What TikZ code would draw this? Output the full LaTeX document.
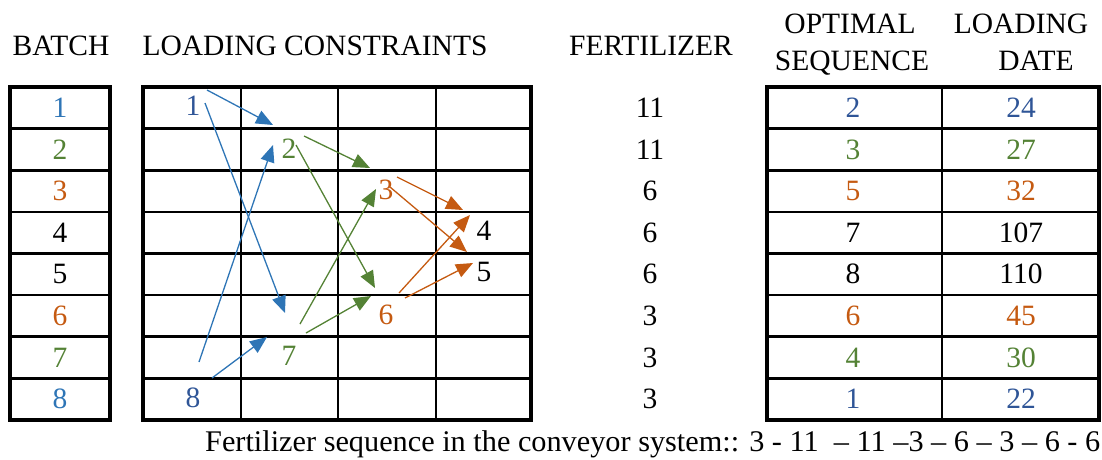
\documentclass[tikz,border=0pt]{standalone}
\usepackage{fontspec}
\setmainfont{LiberationSerif}[Extension=.ttf, UprightFont=*-Regular, BoldFont=*-Bold]
\usetikzlibrary{arrows.meta}
\definecolor{seqblue}{HTML}{2F5597}
\definecolor{arrblue}{HTML}{2E75B6}
\definecolor{seqgreen}{HTML}{548235}
\definecolor{seqorange}{HTML}{C55A11}

\begin{document}
\begin{tikzpicture}[
    x=1pt, y=-1pt,
    every node/.style={inner sep=0pt, font=\fontsize{29.5}{32}\selectfont},
    head/.style={anchor=base},
    outer/.style={line width=4.5pt},
    inner/.style={line width=2.6pt},
    link/.style={line width=1.3pt, -{Triangle[length=17pt,width=14pt]}}
]
\useasboundingbox (0,0) rectangle (1102,459);

\node[head] (hbatch) at (61,55) {BATCH};
\node[head] (hload) at (315,55) {LOADING CONSTRAINTS};
\node[head] (hfert) at (651,55) {FERTILIZER};
\node[head] (hopt) at (850,33) {OPTIMAL};
\node[head] (hseq) at (852,70) {SEQUENCE};
\node[head] (hldg) at (1021,33) {LOADING};
\node[head] (hdate) at (1036,70) {DATE};

\draw[inner] \foreach \i in {1,...,7} {(10,{87+41.6*\i}) -- (110,{87+41.6*\i})};
\draw[outer] (10,87) rectangle (110,420);

\draw[inner] \foreach \i in {1,...,7} {(143,{87+41.6*\i}) -- (531,{87+41.6*\i})}
    \foreach \x in {241,338,436} {(\x,87) -- (\x,420)};
\draw[outer] (143,87) rectangle (531,420);

\draw[inner] \foreach \i in {1,...,7} {(767,{87+41.6*\i}) -- (1099,{87+41.6*\i})}
    (942,87) -- (942,420);
\draw[outer] (767,87) rectangle (1099,420);

\foreach \v/\c [count=\i] in {1/arrblue,2/seqgreen,3/seqorange,4/black,5/black,6/seqorange,7/seqgreen,8/arrblue}
  \node[text=\c] (b\i) at (60,{87+41.6*(\i-0.5)}) {\v};

\foreach \v [count=\i] in {11,11,6,6,6,3,3,3}
  \node (f\i) at (650,{87+41.6*(\i-0.5)}) {\v};

\foreach \s/\d/\c [count=\i] in {2/24/seqblue,3/27/seqgreen,5/32/seqorange,7/107/black,8/110/black,6/45/seqorange,4/30/seqgreen,1/22/seqblue} {
  \node[text=\c] (s\i) at (853,{87+41.6*(\i-0.5)}) {\s};
  \node[text=\c] (d\i) at (1021,{87+41.6*(\i-0.5)}) {\d};
}

\node[text=seqblue] (n1) at (193,106) {1};
\node[text=seqgreen] (n2) at (289,149) {2};
\node[text=seqorange] (n3) at (386,190) {3};
\node (n4) at (484,231) {4};
\node (n5) at (484,272) {5};
\node[text=seqorange] (n6) at (386,315) {6};
\node[text=seqgreen] (n7) at (289,356) {7};
\node[text=seqblue] (n8) at (193,398) {8};

\draw[link, arrblue] ([shift={(14,-16)}]n1.center) -- ([shift={(-16,-24)}]n2.center);
\draw[link, arrblue] ([shift={(12,-3)}]n1.center) -- ([shift={(-4,-43)}]n7.center);
\draw[link, arrblue] ([shift={(6,-36)}]n8.center) -- ([shift={(-16,-4)}]n2.center);
\draw[link, arrblue] ([shift={(19,-20)}]n8.center) -- ([shift={(-22,-19)}]n7.center);

\draw[link, seqgreen] ([shift={(15,-13)}]n2.center) -- ([shift={(-16,-22)}]n3.center);
\draw[link, seqgreen] ([shift={(7,-4)}]n2.center) -- ([shift={(-11,-27)}]n6.center);
\draw[link, seqgreen] ([shift={(11,-32)}]n7.center) -- ([shift={(-10,-1)}]n3.center);
\draw[link, seqgreen] ([shift={(17,-23)}]n7.center) -- ([shift={(-15,-19)}]n6.center);

\draw[link, seqorange] ([shift={(11,-13)}]n3.center) -- ([shift={(-21,-21)}]n4.center);
\draw[link, seqorange] ([shift={(4,-3)}]n3.center) -- ([shift={(-17,-20)}]n5.center);
\draw[link, seqorange] ([shift={(13,-22)}]n6.center) -- ([shift={(-14,-16)}]n4.center);
\draw[link, seqorange] ([shift={(19,-17)}]n6.center) -- ([shift={(-11,-9)}]n5.center);

\node[anchor=base west] (seqline) at (205,451)
  {\resizebox{895pt}{\height}{\fontsize{30}{32}\selectfont Fertilizer sequence in the conveyor system:: 3 - 11 \ -- 11 --3 -- 6 -- 3 -- 6 - 6}};
\end{tikzpicture}
\end{document}
